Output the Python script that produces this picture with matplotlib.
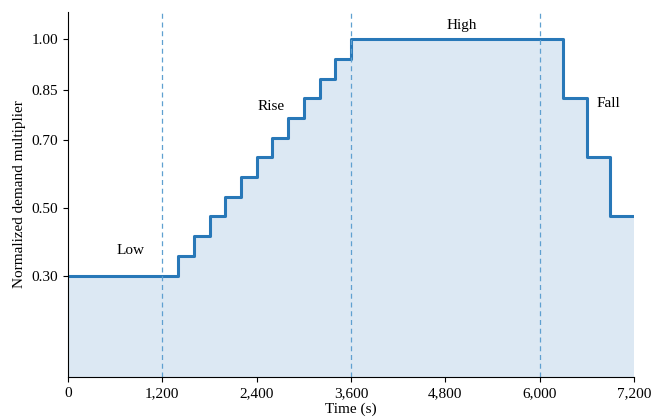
import matplotlib
matplotlib.use("Agg")
import matplotlib.pyplot as plt
from matplotlib.ticker import FuncFormatter

plt.rcParams['font.family'] = ['Liberation Serif', 'DejaVu Serif']

# step change times (s) and multiplier level holding from that time
times = [0, 1400, 1600, 1800, 2000, 2200, 2400, 2600, 2800, 3000, 3200, 3400, 3600,
         6300, 6600, 6900, 7200]
levels = [0.30, 0.358, 0.417, 0.475, 0.533, 0.592, 0.650, 0.708, 0.767, 0.825, 0.883, 0.942, 1.00,
          0.825, 0.650, 0.475, 0.475]

phase_bounds = [1200, 3600, 6000]
phase_labels = ["Low", "Rise", "High", "Fall"]
label_x = [790, 2580, 5010, 6880]
label_y = [0.375, 0.80, 1.04, 0.81]

yticks = [0.30, 0.50, 0.70, 0.85, 1.00]
xticks = [0, 1200, 2400, 3600, 4800, 6000, 7200]

fig = plt.figure(figsize=(6.51, 4.19), dpi=100)
ax = fig.add_axes([68/651, 1 - 377/419, (634-68)/651, (377-12)/419])

line_color = "#2878b8"
ax.fill_between(times, levels, 0, step="post", color="#dce8f3", linewidth=0)
ax.step(times, levels, where="post", color=line_color, linewidth=2.2)

for b in phase_bounds:
    ax.axvline(b, color="#5fa0d0", linestyle=(0, (4, 3)), linewidth=0.9)

for t, x, y in zip(phase_labels, label_x, label_y):
    ax.text(x, y, t, ha="center", va="center", fontsize=11)

ax.set_xlim(0, 7200)
ax.set_ylim(0, 1.08)
ax.set_xticks(xticks)
ax.xaxis.set_major_formatter(FuncFormatter(lambda v, p: f"{int(v):,}"))
ax.set_yticks(yticks)
ax.yaxis.set_major_formatter(FuncFormatter(lambda v, p: f"{v:.2f}"))
ax.tick_params(labelsize=11)
ax.spines['top'].set_visible(False)
ax.spines['right'].set_visible(False)
ax.set_xlabel("Time (s)", fontsize=11, labelpad=2)
ax.set_ylabel("Normalized demand multiplier", fontsize=11)

fig.savefig("out.png", dpi=100)
